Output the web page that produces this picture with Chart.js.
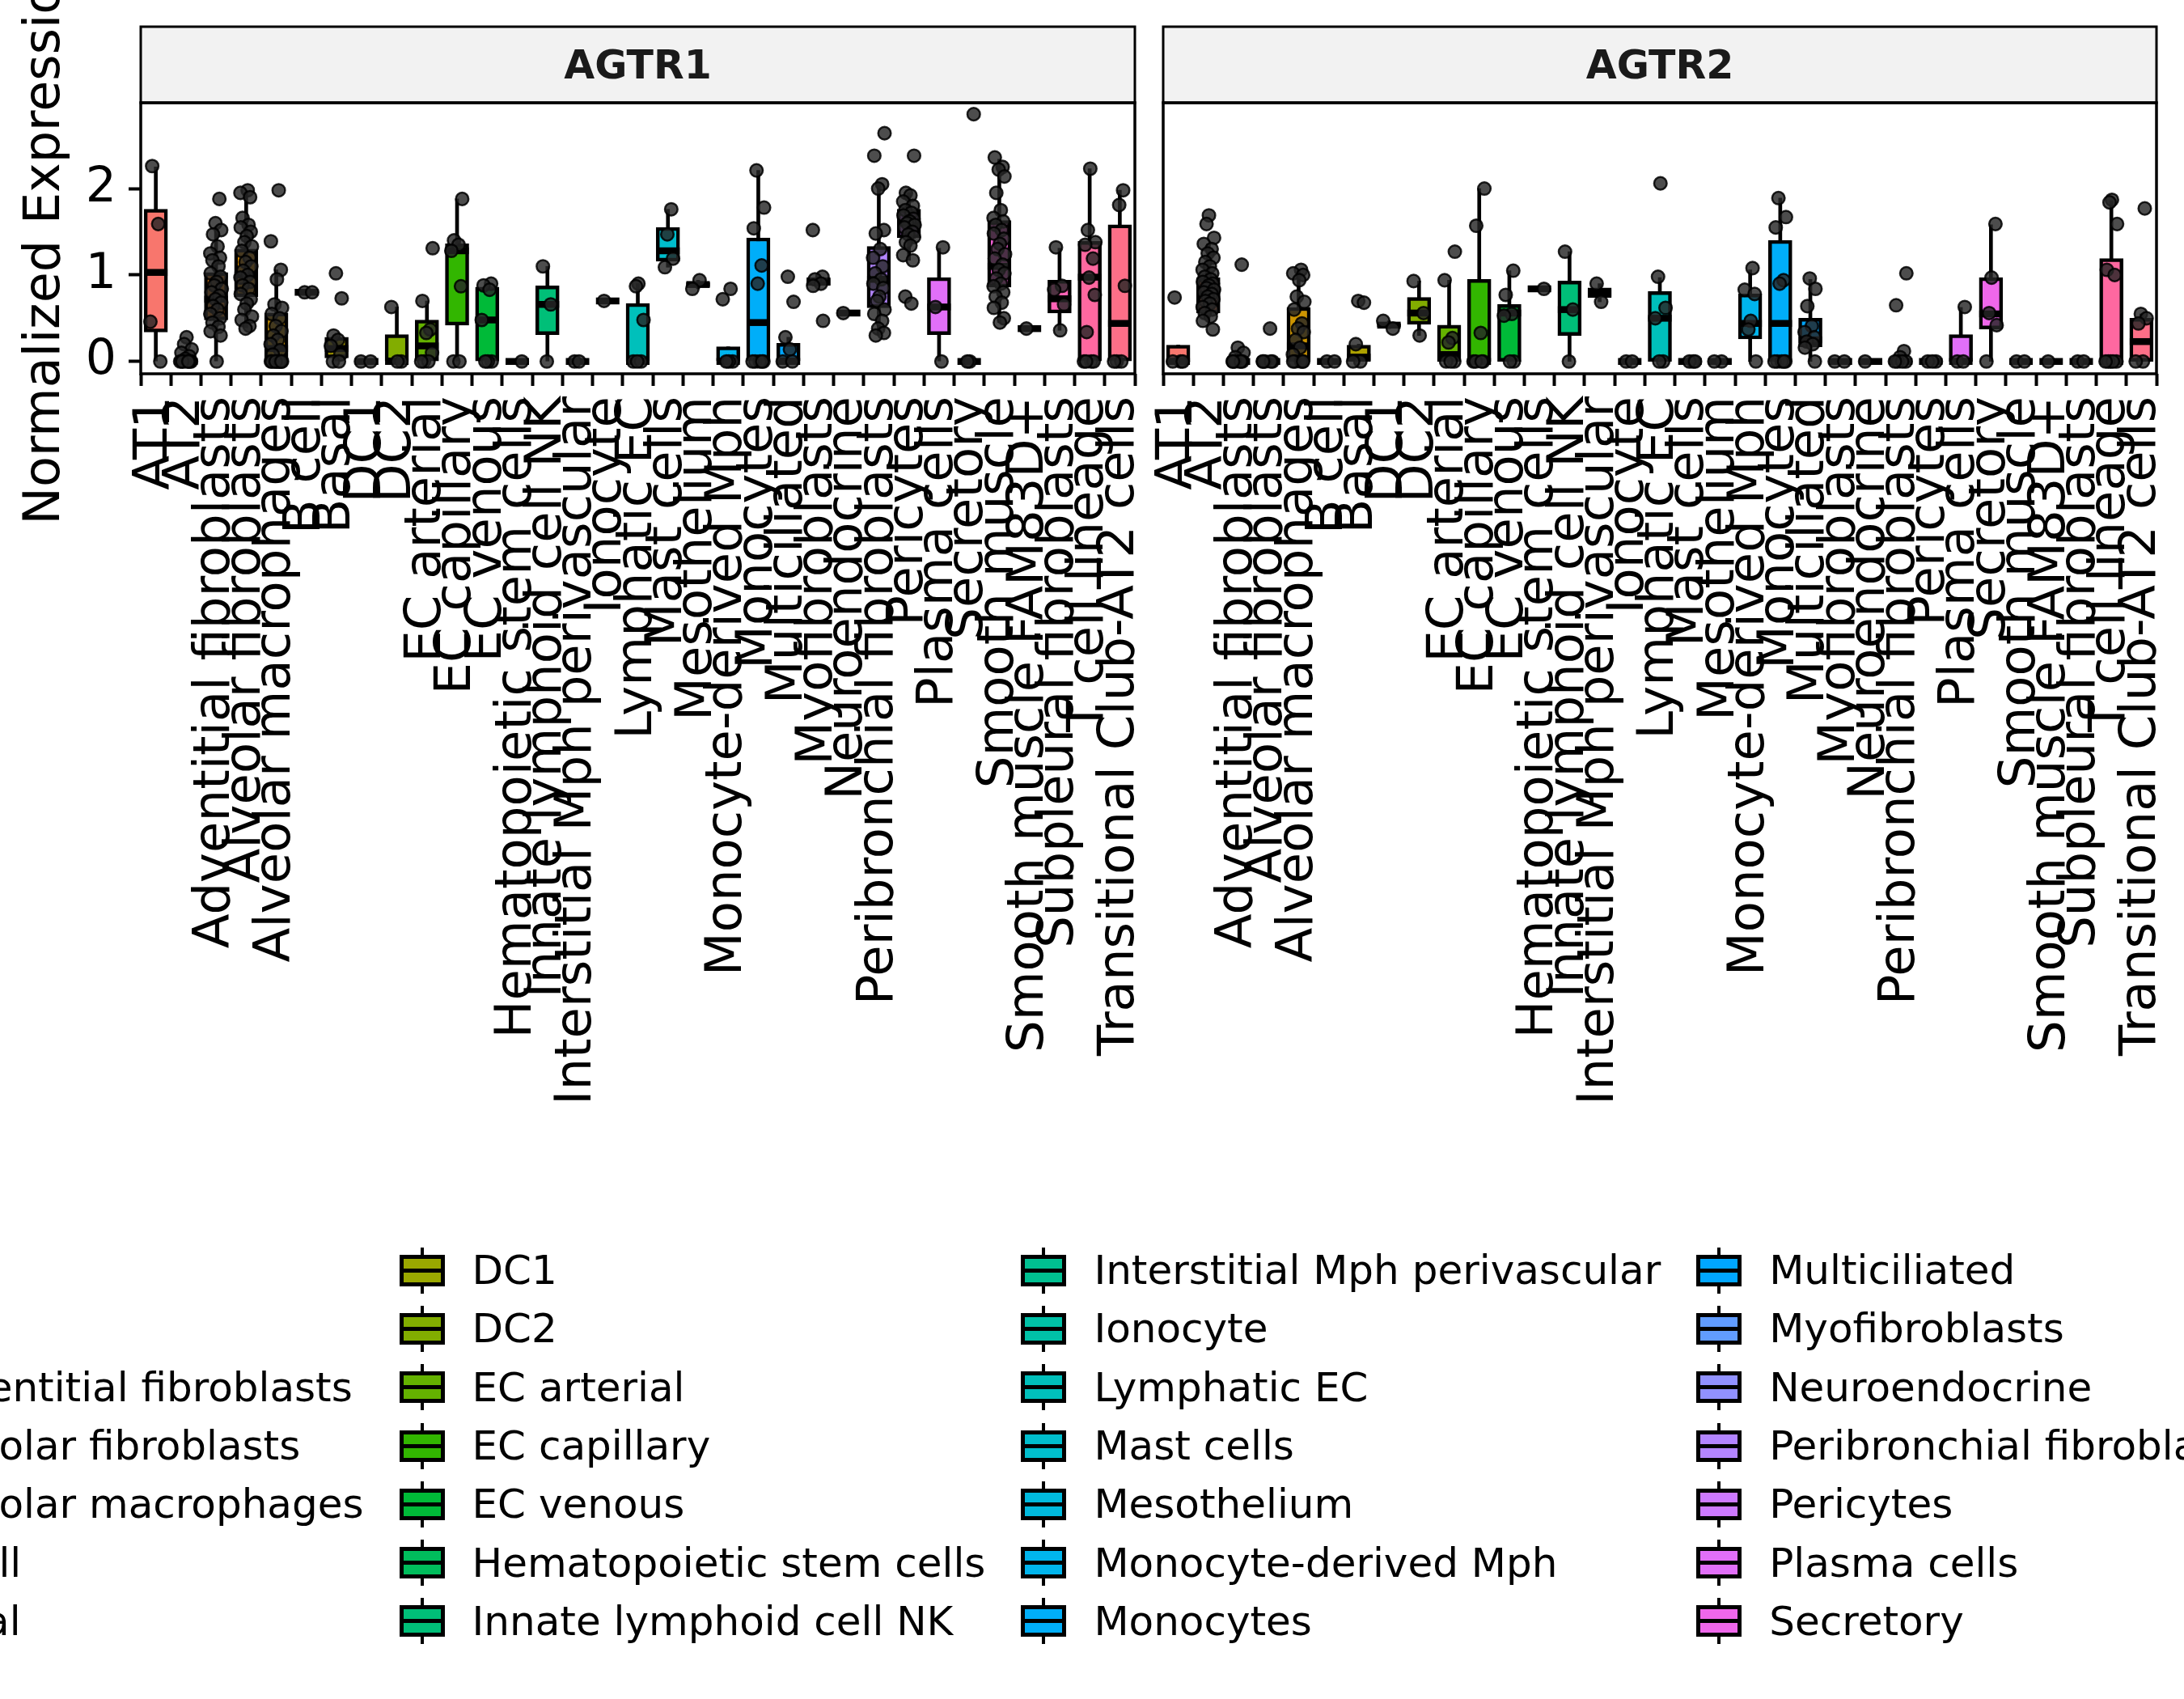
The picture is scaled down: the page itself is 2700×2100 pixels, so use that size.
<!DOCTYPE html>
<html>
<head>
<meta charset="utf-8">
<title>AGTR1 / AGTR2</title>
<script src="https://cdn.jsdelivr.net/npm/chart.js@4.4.1/dist/chart.umd.min.js"></script>
<style>
  html, body { margin: 0; padding: 0; background: #fff; }
  body { position: relative; width: 2700px; height: 2100px; overflow: hidden; }
  canvas { position: absolute; top: 0; }
  #chart-agtr1 { left: 0; }
  #chart-agtr2 { left: 1300px; }
  #legend { position: absolute; top: 1534px; left: -200px; display: flex; gap: 44px;
            font-family: 'DejaVu Sans'; font-size: 50px; color: #000; white-space: nowrap; }
  .legend-col { display: flex; flex-direction: column; }
  .legend-item { height: 72.3px; display: flex; align-items: center; }
  .legend-key { position: relative; width: 56px; height: 57px; margin-right: 34px; flex: none; }
  .legend-key .whisker { position: absolute; left: 26px; top: 0; width: 4px; height: 57px; background: #000; }
  .legend-key .box { position: absolute; left: 0; top: 9px; width: 56px; height: 39px; box-sizing: border-box; border: 5px solid #000; }
  .legend-key .mid { position: absolute; left: 0; top: 26px; width: 56px; height: 5px; background: #000; }
</style>
</head>
<body>
<canvas id="chart-agtr1" width="1483" height="1420"></canvas>
<canvas id="chart-agtr2" width="1450" height="1420"></canvas>
<div id="legend"></div>

<script>

  ////////////////////
 // DATA           //
////////////////////

const cellTypes = [
  'AT1', 'AT2', 'Adventitial fibroblasts', 'Alveolar fibroblasts', 'Alveolar macrophages',
  'B cell', 'Basal', 'DC1', 'DC2', 'EC arterial', 'EC capillary', 'EC venous',
  'Hematopoietic stem cells', 'Innate lymphoid cell NK', 'Interstitial Mph perivascular',
  'Ionocyte', 'Lymphatic EC', 'Mast cells', 'Mesothelium', 'Monocyte-derived Mph',
  'Monocytes', 'Multiciliated', 'Myofibroblasts', 'Neuroendocrine',
  'Peribronchial fibroblasts', 'Pericytes', 'Plasma cells', 'Secretory', 'Smooth muscle',
  'Smooth muscle FAM83D+', 'Subpleural fibroblasts', 'T cell lineage',
  'Transitional Club-AT2 cells'
];

const yTicks = [0, 1, 2];

// AGTR1 box statistics (lower whisker, Q1, median, Q3, upper whisker)
const agtr1Low    = [0,    0, 0,    0.39, 0,    0.8, 0,    0, 0,    0,    0,    0,    0, 0,     0, 0.7, 0,    1.09, 0.84,  0,    0,    0,    0.875, 0.56, 0.34, 1.17, 0,    0, 0.45, 0.38, 0.36,  0,     0];
const agtr1Q1     = [0.34, 0, 0.48, 0.75, 0,    0.8, 0.04, 0, 0,    0,    0.42, 0,    0, 0.31,  0, 0.7, 0,    1.16, 0.865, 0,    0,    0,    0.88,  0.56, 0.62, 1.43, 0.31, 0, 0.86, 0.38, 0.56,  0,     0];
const agtr1Median = [1.03, 0, 0.72, 1.0,  0.15, 0.8, 0.15, 0, 0,    0.18, 1.28, 0.48, 0, 0.66,  0, 0.7, 0,    1.28, 0.89,  0,    0.45, 0,    0.92,  0.56, 0.95, 1.6,  0.63, 0, 1.1,  0.38, 0.725, 0.975, 0.44];
const agtr1Q3     = [1.76, 0.02, 1.03, 1.3, 0.56, 0.8, 0.28, 0, 0.31, 0.48, 1.36, 0.86, 0, 0.875, 0, 0.7, 0.67, 1.55, 0.915, 0.17, 1.43, 0.21, 0.97, 0.56, 1.33, 1.76, 0.97, 0, 1.63, 0.38, 0.94, 1.39, 1.58];
const agtr1High   = [2.25, 0.04, 1.56, 1.95, 1.06, 0.8, 0.3, 0, 0.63, 0.7, 1.88, 0.9, 0, 1.1, 0, 0.7, 0.9, 1.76, 0.94, 0.17, 2.21, 0.28, 0.98, 0.56, 2.05, 1.95, 1.31, 0, 2.34, 0.38, 1.31, 2.23, 1.98];

const agtr1Points = [
  [2.26, 1.59, 0.46, 0],
  [0.28, 0.2, 0.14, 0.1, 0.06, 0.03, 0, 0, 0, 0, 0, 0, 0],
  [1.88, 1.6, 1.52, 1.47, 1.33, 1.25, 1.2, 1.17, 1.1, 1.02, 0.98, 0.92, 0.88, 0.84, 0.8, 0.76, 0.72, 0.68, 0.64, 0.6, 0.55, 0.5, 0.45, 0.4, 0.35, 0.3, 0],
  [1.98, 1.95, 1.9, 1.66, 1.58, 1.55, 1.5, 1.45, 1.38, 1.33, 1.28, 1.2, 1.15, 1.1, 1.05, 1.0, 0.97, 0.92, 0.88, 0.84, 0.78, 0.72, 0.67, 0.6, 0.52, 0.48, 0.41, 0.38],
  [1.98, 1.39, 1.06, 0.95, 0.66, 0.62, 0.55, 0.5, 0.41, 0.35, 0.3, 0.25, 0.2, 0.13, 0.08, 0, 0, 0, 0, 0, 0, 0, 0, 0, 0],
  [0.8, 0.8],
  [1.02, 0.73, 0.3, 0.25, 0.18, 0.08, 0, 0],
  [0, 0],
  [0.63, 0, 0],
  [1.31, 0.7, 0.37, 0.33, 0.1, 0, 0, 0],
  [1.88, 1.4, 1.35, 1.28, 0.87, 0, 0],
  [0.9, 0.88, 0.83, 0.48, 0, 0, 0],
  [0],
  [1.1, 0.66, 0],
  [0, 0],
  [0.7],
  [0.9, 0.87, 0.48, 0, 0, 0],
  [1.76, 1.47, 1.19, 1.09],
  [0.94, 0.84],
  [0.84, 0.72, 0, 0, 0],
  [2.21, 1.78, 1.54, 1.11, 0.9, 0, 0, 0, 0, 0],
  [0.98, 0.69, 0.28, 0.14, 0, 0],
  [1.52, 0.98, 0.95, 0.9, 0.875, 0.47],
  [0.56],
  [2.64, 2.38, 2.05, 2.0, 1.52, 1.48, 1.3, 1.2, 1.1, 1.02, 0.95, 0.9, 0.85, 0.75, 0.7, 0.6, 0.55, 0.47, 0.38, 0.33, 0.3],
  [2.38, 1.95, 1.92, 1.85, 1.8, 1.75, 1.72, 1.69, 1.65, 1.62, 1.6, 1.58, 1.55, 1.5, 1.47, 1.44, 1.38, 1.34, 1.23, 1.17, 0.75, 0.67],
  [1.32, 0.63, 0],
  [2.86, 0, 0],
  [2.36, 2.25, 2.22, 2.14, 1.95, 1.75, 1.66, 1.62, 1.58, 1.52, 1.48, 1.42, 1.36, 1.3, 1.24, 1.19, 1.12, 1.06, 1.02, 0.96, 0.9, 0.87, 0.8, 0.75, 0.68, 0.62, 0.5, 0.45],
  [0.38],
  [1.32, 0.875, 0.83, 0.66, 0.36],
  [2.23, 1.52, 1.38, 1.35, 1.19, 0.97, 0.77, 0.34, 0, 0, 0, 0],
  [1.98, 1.81, 0.875, 0, 0, 0]
];

// AGTR2 box statistics
const agtr2Low    = [0,    0.47, 0, 0, 0,    0, 0,    0.38, 0.3,  0,    0,    0,    0.84, 0,    0.69, 0, 0,    0, 0, 0,    0,    0,    0, 0, 0, 0, 0,    0,     0, 0, 0, 0,    0];
const agtr2Q1     = [0,    0.56, 0, 0, 0,    0, 0,    0.4,  0.43, 0,    0,    0,    0.84, 0.3,  0.74, 0, 0,    0, 0, 0.26, 0,    0.17, 0, 0, 0, 0, 0,    0.375, 0, 0, 0, 0,    0];
const agtr2Median = [0,    0.78, 0, 0, 0.18, 0, 0.05, 0.42, 0.56, 0.08, 0,    0.56, 0.84, 0.6,  0.79, 0, 0.5,  0, 0, 0.44, 0.44, 0.25, 0, 0, 0, 0, 0,    0.55,  0, 0, 0, 0,    0.23];
const agtr2Q3     = [0.19, 0.97, 0, 0, 0.625, 0, 0.19, 0.44, 0.74, 0.42, 0.95, 0.66, 0.84, 0.93, 0.85, 0, 0.81, 0, 0, 0.78, 1.4, 0.5, 0, 0, 0, 0, 0.31, 0.97, 0, 0, 0, 1.19, 0.5];
const agtr2High   = [0.19, 1.36, 0, 0, 1.06, 0, 0.2, 0.47, 0.93, 0.94, 2.0, 1.05, 0.84, 1.27, 0.9, 0, 0.97, 0, 0, 1.06, 1.89, 0.95, 0, 0, 0, 0, 0.625, 1.58, 0, 0, 0, 1.86, 0.55];

const agtr2Points = [
  [0.74, 0, 0, 0],
  [1.69, 1.59, 1.43, 1.36, 1.3, 1.25, 1.2, 1.15, 1.1, 1.06, 1.02, 0.98, 0.95, 0.92, 0.9, 0.88, 0.85, 0.83, 0.8, 0.78, 0.75, 0.72, 0.7, 0.67, 0.63, 0.6, 0.56, 0.52, 0.47, 0.37],
  [1.12, 0.16, 0.1, 0.05, 0, 0, 0, 0, 0, 0],
  [0.38, 0, 0, 0, 0, 0],
  [1.06, 1.02, 1.0, 0.94, 0.75, 0.69, 0.6, 0.44, 0.38, 0.34, 0.25, 0.16, 0.08, 0, 0, 0, 0, 0],
  [0, 0],
  [0.7, 0.68, 0.2, 0, 0],
  [0.47, 0.38],
  [0.93, 0.56, 0.3],
  [1.27, 0.94, 0.27, 0.22, 0, 0, 0],
  [2.0, 1.57, 0.33, 0, 0, 0, 0],
  [1.05, 0.77, 0.55, 0.53, 0, 0],
  [0.84],
  [1.27, 0.6, 0],
  [0.9, 0.69],
  [0, 0],
  [2.06, 0.98, 0.62, 0.5, 0, 0],
  [0, 0, 0],
  [0, 0],
  [1.08, 0.83, 0.78, 0.47, 0.37, 0],
  [1.89, 1.67, 1.55, 0.94, 0.9, 0, 0, 0, 0, 0],
  [0.96, 0.84, 0.64, 0.41, 0.34, 0.28, 0.23, 0.2, 0.16, 0],
  [0, 0],
  [0],
  [1.02, 0.65, 0.12, 0.05, 0, 0, 0, 0],
  [0, 0, 0],
  [0.63, 0, 0],
  [1.59, 0.97, 0.56, 0.42, 0],
  [0, 0],
  [0],
  [0, 0],
  [1.87, 1.84, 1.59, 1.06, 1.0, 0, 0, 0, 0, 0],
  [1.77, 0.55, 0.5, 0.44, 0, 0]
];

// Horizontal jitter (fraction of a category) cycled over the points
const jitterOffsets = [-0.12, 0.08, -0.18, 0.15, 0.02, -0.06, 0.19, -0.15, 0.11, -0.02, 0.17, -0.1, 0.05, -0.19, 0.13];


  ////////////////////
 // COLOURS        //
////////////////////

// ggplot2 default hue palette (hcl, c = 100, l = 65)
function hclHex(h, c, l) {
  const hr = h * Math.PI / 180;
  const U = c * Math.cos(hr), V = c * Math.sin(hr);
  const Y = 100 * (l > 7.999592 ? Math.pow((l + 16) / 116, 3) : l / 903.3);
  const u = U / (13 * l) + 0.1978398;
  const v = V / (13 * l) + 0.4683363;
  const X = 9 * Y * u / (4 * v);
  const Z = -X / 3 - 5 * Y + 3 * Y / v;
  const g = t => (t > 0.00304 ? 1.055 * Math.pow(t, 1 / 2.4) - 0.055 : 12.92 * t);
  const rgb = [
    g((3.240479 * X - 1.537150 * Y - 0.498535 * Z) / 100),
    g((-0.969256 * X + 1.875992 * Y + 0.041556 * Z) / 100),
    g((0.055648 * X - 0.204043 * Y + 1.057311 * Z) / 100)
  ];
  return '#' + rgb.map(t => Math.round(255 * Math.min(1, Math.max(0, t))).toString(16).padStart(2, '0')).join('');
}

const palette = cellTypes.map((_, i) => hclHex(15 + i * 360 / cellTypes.length, 100, 65));


  ////////////////////
 // PLUGIN STRIP   //
////////////////////

const panelFrame = {
  id: 'panelFrame',
  afterDraw(chart, args, opts) {
    const { ctx, chartArea: a } = chart;
    ctx.save();
    ctx.fillStyle = '#f2f2f2';
    ctx.fillRect(a.left, 33, a.width, a.top - 33);
    ctx.strokeStyle = '#000';
    ctx.lineWidth = 3;
    ctx.strokeRect(a.left, 33, a.width, a.top - 33);
    ctx.fillStyle = '#1a1a1a';
    ctx.font = 'bold 49px "DejaVu Sans"';
    ctx.textAlign = 'center';
    ctx.textBaseline = 'alphabetic';
    ctx.fillText(opts.label, (a.left + a.right) / 2, 97);
    ctx.lineWidth = 3.5;
    ctx.strokeRect(a.left, a.top, a.width, a.height);
    ctx.restore();
  }
};


  ////////////////////
 // CHARTS         //
////////////////////

Chart.defaults.font.family = "'DejaVu Sans'";
Chart.defaults.color = '#000';

function buildDatasets(low, q1, median, q3, high, points) {
  return [
    {
      type: 'scatter',
      data: points.flatMap((vals, i) => vals.map((v, k) => ({ x: i + jitterOffsets[(k + i * 4) % jitterOffsets.length], y: v }))),
      pointRadius: 7.8,
      borderWidth: 2.5,
      backgroundColor: 'rgba(38,38,38,0.82)',
      borderColor: 'rgba(0,0,0,0.85)',
      order: 1
    },
    {
      type: 'scatter',
      data: cellTypes.map((_, i) => ({ x: i, y: median[i] })),
      pointStyle: 'line',
      pointRadius: 14.5,
      borderWidth: 8.5,
      borderColor: '#000',
      order: 2
    },
    {
      type: 'bar',
      data: cellTypes.map((_, i) => ({ x: i, y: [q1[i], q3[i]] })),
      backgroundColor: palette,
      borderColor: '#000',
      borderWidth: 4.5,
      borderSkipped: false,
      barThickness: 29,
      grouped: false,
      order: 3
    },
    {
      type: 'bar',
      data: cellTypes.map((_, i) => ({ x: i, y: [low[i], high[i]] })),
      backgroundColor: '#000',
      barThickness: 4,
      grouped: false,
      order: 4
    }
  ];
}

function buildOptions(label, showY, padding) {
  const tickGrid = { display: true, drawOnChartArea: false, drawTicks: true, tickLength: 15, tickWidth: 4, tickColor: '#000' };
  return {
    responsive: false,
    animation: false,
    devicePixelRatio: 1,
    layout: { padding: padding },
    plugins: {
      legend: { display: false },
      tooltip: { enabled: false },
      panelFrame: { label: label }
    },
    scales: {
      x: {
        type: 'linear',
        min: -0.5,
        max: cellTypes.length - 0.5,
        offset: false,
        grid: tickGrid,
        border: { display: false },
        afterBuildTicks: s => { s.ticks = cellTypes.map((_, i) => ({ value: i })); },
        afterFit: s => { s.height = 1420 - 462; },
        ticks: {
          autoSkip: false,
          minRotation: 90,
          maxRotation: 90,
          padding: 13,
          color: '#000',
          font: { size: 62.5 },
          callback: v => cellTypes[v]
        }
      },
      y: {
        type: 'linear',
        min: -0.1425,
        max: 2.9925,
        display: showY,
        grid: tickGrid,
        border: { display: false },
        afterBuildTicks: s => { s.ticks = yTicks.map(v => ({ value: v })); },
        afterFit: s => { if (showY) s.width = 174; },
        ticks: { padding: 15, color: '#000', font: { size: 60 } },
        title: {
          display: true,
          text: 'Normalized Expression',
          color: '#000',
          font: { size: 62 },
          padding: { top: 20, bottom: 0 }
        }
      }
    }
  };
}

new Chart(document.getElementById('chart-agtr1').getContext('2d'), {
  type: 'bar',
  data: { datasets: buildDatasets(agtr1Low, agtr1Q1, agtr1Median, agtr1Q3, agtr1High, agtr1Points) },
  options: buildOptions('AGTR1', true, { top: 127, left: 0, right: 80, bottom: 0 }),
  plugins: [panelFrame]
});

new Chart(document.getElementById('chart-agtr2').getContext('2d'), {
  type: 'bar',
  data: { datasets: buildDatasets(agtr2Low, agtr2Q1, agtr2Median, agtr2Q3, agtr2High, agtr2Points) },
  options: buildOptions('AGTR2', false, { top: 127, left: 138, right: 84, bottom: 0 }),
  plugins: [panelFrame]
});


  ////////////////////
 // LEGEND         //
////////////////////

const legendEl = document.getElementById('legend');
for (let c = 0; c < cellTypes.length; c += 7) {
  const col = document.createElement('div');
  col.className = 'legend-col';
  cellTypes.slice(c, c + 7).forEach((name, j) => {
    const item = document.createElement('div');
    item.className = 'legend-item';
    const key = document.createElement('div');
    key.className = 'legend-key';
    key.innerHTML = '<div class="whisker"></div><div class="box" style="background:' + palette[c + j] + '"></div><div class="mid"></div>';
    const text = document.createElement('span');
    text.textContent = name;
    item.appendChild(key);
    item.appendChild(text);
    col.appendChild(item);
  });
  legendEl.appendChild(col);
}

</script>
</body>
</html>
